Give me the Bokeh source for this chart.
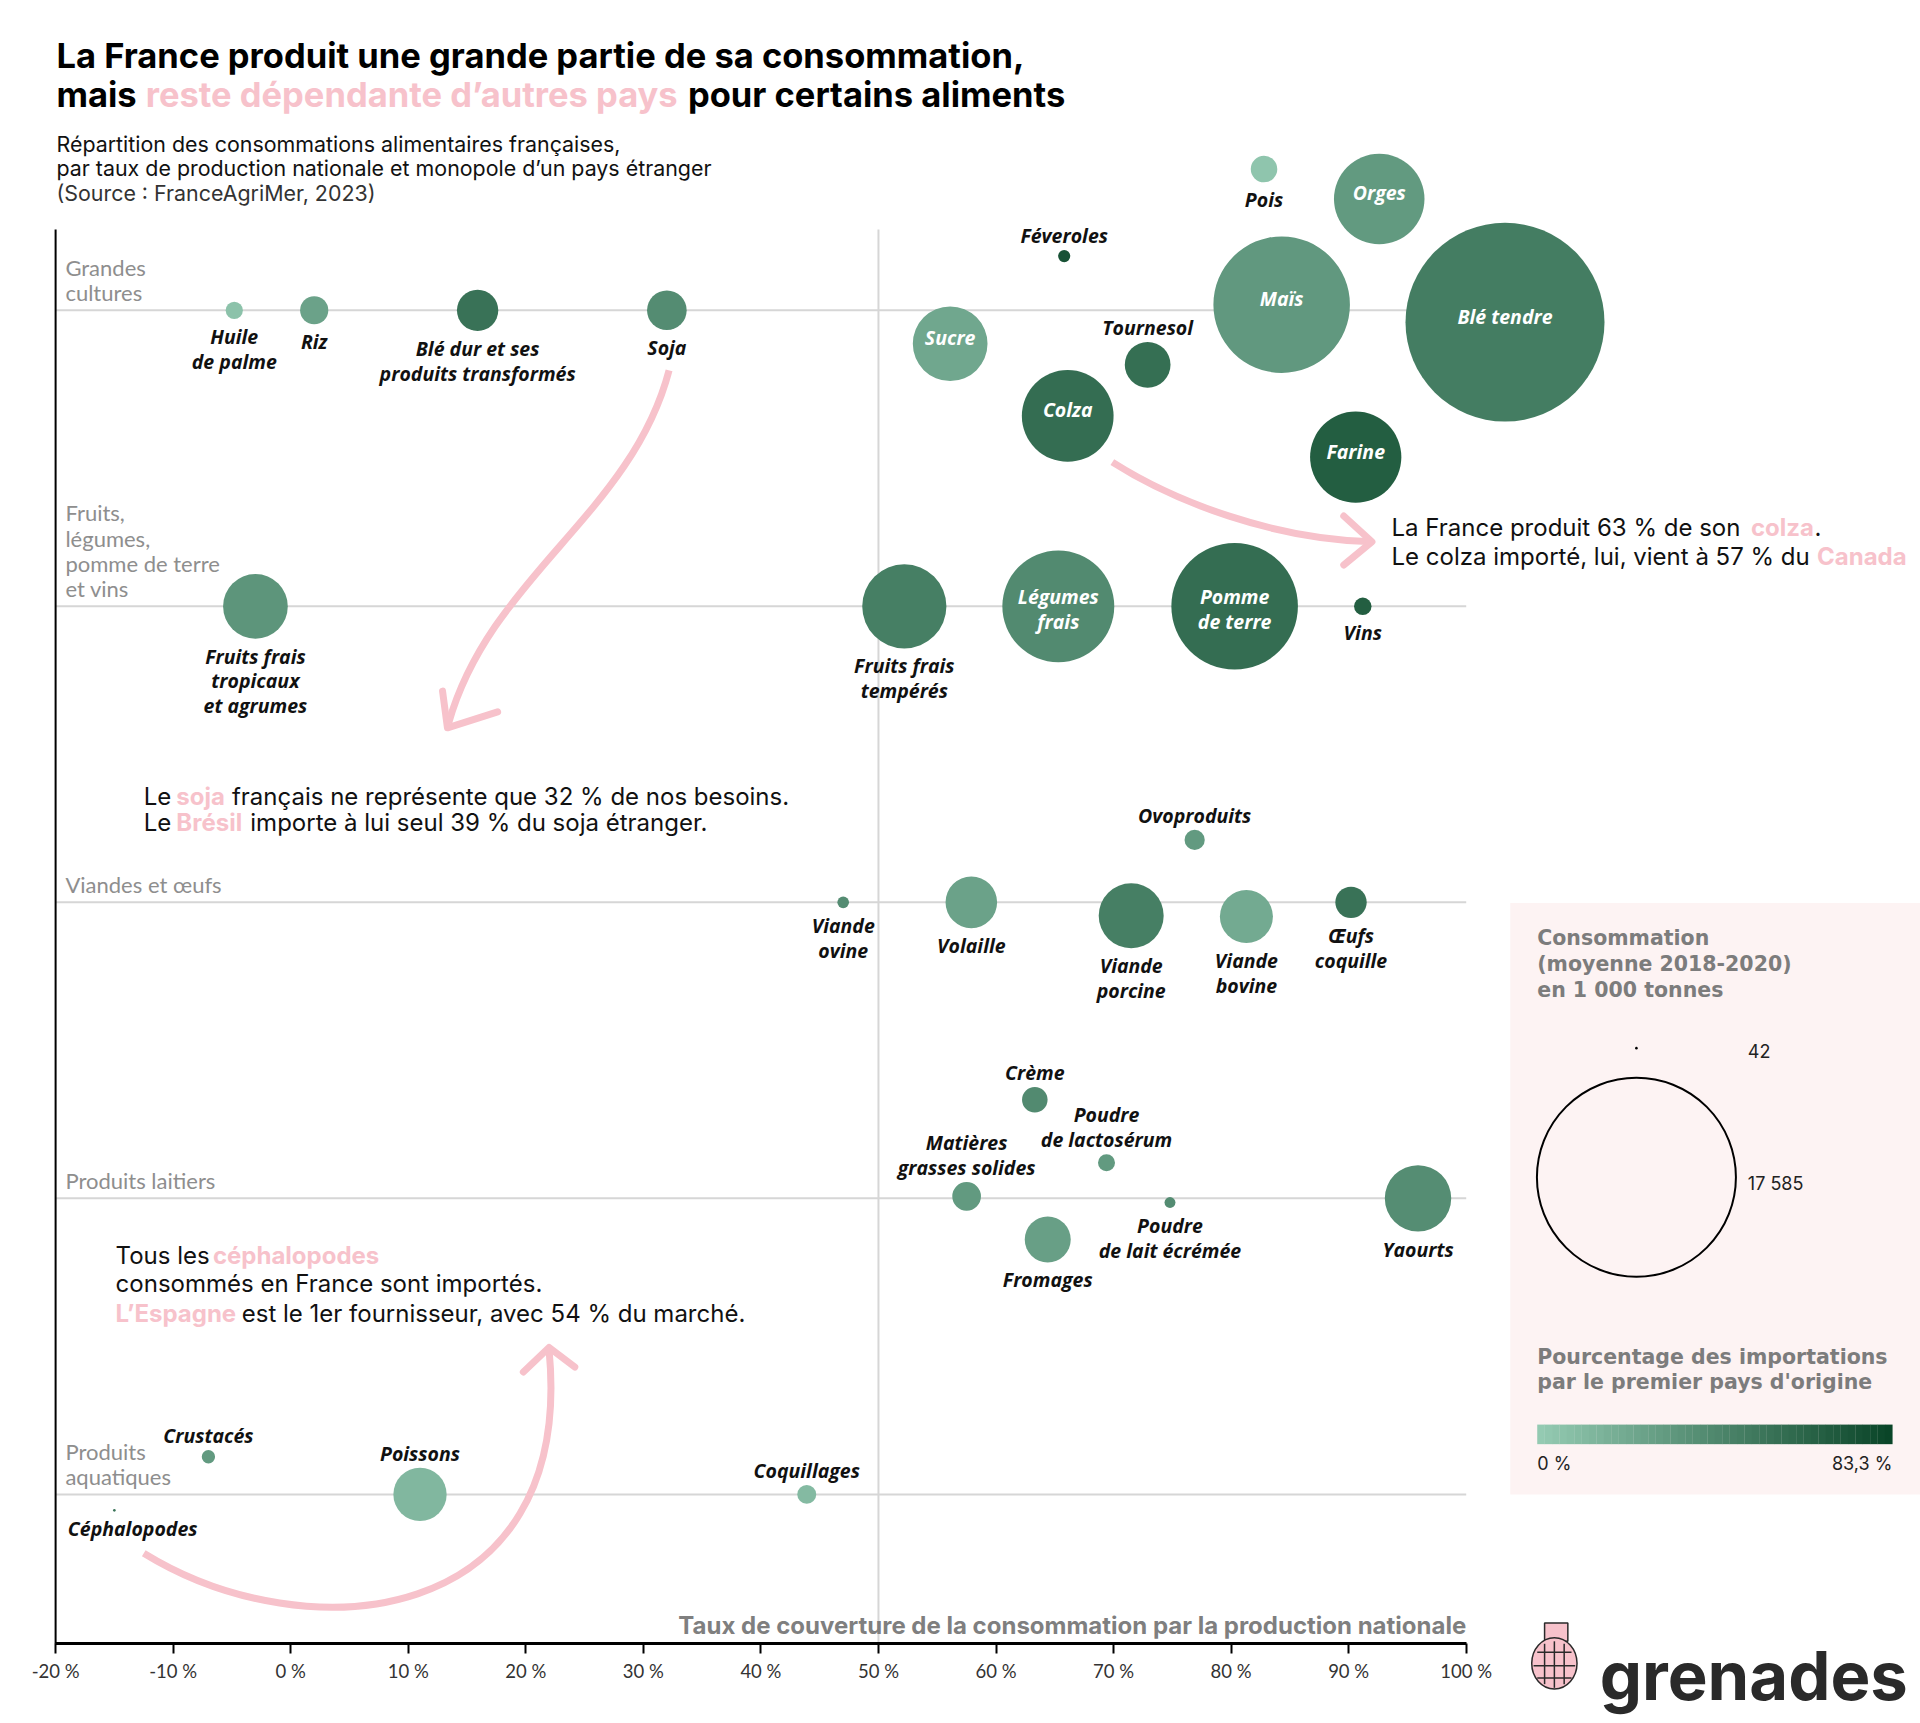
import numpy as np
from bokeh.plotting import figure
from bokeh.models import Range1d, ColumnDataSource, LinearColorMapper, LinearAxis, FixedTicker
from bokeh.transform import transform
from bokeh.core.properties import value
from bokeh.embed import file_html
from bokeh.resources import INLINE

# ------------------------------------------------------------------ data
categories = ["Produits\naquatiques", "Produits laitiers", "Viandes et œufs",
              "Fruits,\nlégumes,\npomme de terre\net vins", "Grandes\ncultures"]
category_row = [0, 1, 2, 3, 4]

products = ["Huile de palme", "Riz", "Blé dur et ses produits transformés", "Soja", "Sucre",
            "Féveroles", "Colza", "Tournesol", "Pois", "Orges", "Maïs", "Blé tendre", "Farine",
            "Fruits frais tropicaux et agrumes", "Fruits frais tempérés", "Légumes frais",
            "Pomme de terre", "Vins",
            "Viande ovine", "Volaille", "Ovoproduits", "Viande porcine", "Viande bovine", "Œufs coquille",
            "Crème", "Poudre de lactosérum", "Matières grasses solides", "Poudre de lait écrémée",
            "Fromages", "Yaourts",
            "Crustacés", "Poissons", "Coquillages", "Céphalopodes"]
product_labels = ["Huile\nde palme", "Riz", "Blé dur et ses\nproduits transformés", "Soja", "Sucre",
                  "Féveroles", "Colza", "Tournesol", "Pois", "Orges", "Maïs", "Blé tendre", "Farine",
                  "Fruits frais\ntropicaux\net agrumes", "Fruits frais\ntempérés", "Légumes\nfrais",
                  "Pomme\nde terre", "Vins",
                  "Viande\novine", "Volaille", "Ovoproduits", "Viande\nporcine", "Viande\nbovine",
                  "Œufs\ncoquille",
                  "Crème", "Poudre\nde lactosérum", "Matières\ngrasses solides", "Poudre\nde lait écrémée",
                  "Fromages", "Yaourts",
                  "Crustacés", "Poissons", "Coquillages", "Céphalopodes"]
product_row = [4, 4, 4, 4, 4, 4, 4, 4, 4, 4, 4, 4, 4,
               3, 3, 3, 3, 3,
               2, 2, 2, 2, 2, 2,
               1, 1, 1, 1, 1, 1,
               0, 0, 0, 0]
coverage_pct = [-4.8, 2.0, 15.9, 32.0, 56.1, 65.8, 66.1, 72.9, 82.8, 92.6, 84.3, 103.3, 90.6,
                -3.0, 52.2, 65.3, 80.3, 91.2,
                47.0, 57.9, 76.9, 71.5, 81.3, 90.2,
                63.3, 69.4, 57.5, 74.8, 64.4, 95.9,
                -7.0, 11.0, 43.9, -15.0]
row_shift = [0.0, 0.0, 0.0, 0.0, -0.113, 0.183, -0.357, -0.184, 0.477, 0.376, 0.019, -0.040, -0.496,
             0.0, 0.0, 0.0, 0.0, 0.0,
             0.0, 0.0, 0.211, -0.045, -0.048, 0.0,
             0.333, 0.120, 0.007, -0.014, -0.139, 0.0,
             0.127, 0.0, 0.0, -0.054]
consumption_kt = [252, 525, 984, 916, 2786, 159, 4060, 1168, 477, 3962, 8554, 17585, 4022,
                  2150, 3467, 5881, 7410, 257,
                  151, 1439, 316, 2165, 1511, 623,
                  450, 248, 540, 140, 1179, 2253,
                  179, 1523, 289, 42]
first_country_share = [5, 25, 55, 39, 22, 75, 58, 57, 3, 30, 31, 48, 68,
                       33, 47, 40, 58, 68,
                       39, 25, 30, 47, 20, 55,
                       40, 30, 30, 39, 27, 38,
                       30, 12, 10, 54]
label_side = ["b", "b", "b", "b", "i", "a", "i", "a", "b", "i", "i", "i", "i",
              "b", "b", "i", "i", "b",
              "b", "b", "a", "b", "b", "b",
              "a", "a", "a", "b", "b", "b",
              "a", "a", "a", "c"]

legend_sizes = [42, 17585]
legend_size_labels = ["42", "17 585"]
legend_share = [0.0, 83.3]
legend_share_labels = ["0 %", "83,3 %"]
x_ticks = [-20, -10, 0, 10, 20, 30, 40, 50, 60, 70, 80, 90, 100]
x_tick_labels = ["-20 %", "-10 %", "0 %", "10 %", "20 %", "30 %", "40 %", "50 %", "60 %",
                 "70 %", "80 %", "90 %", "100 %"]

# ------------------------------------------------------------------ layout helpers
S = 1920 / 1568          # read-off units -> page px
M = 0                    # canvas offset on the page
W, H = 1920, 1723
KX = (1197 - 45) * S / 120      # px per percent
KY = (1220 - 253) * S / 4       # px per category row
X0 = -20 - (45 * S - M) / KX
YT = 4 + (253 * S - M) / KY


def gx(d):
    return X0 + (d * S - M) / KX


def gy(d):
    return YT - (d * S - M) / KY


PINK = "#f7c2cb"
DARK = "#111111"
GRID = "#d6d6d6"
GREY = "#8e8e8e"
LGREY = "#7c7c7c"

c0 = np.array([148, 202, 178])
c1 = np.array([10, 69, 40])
PAL = ["#%02x%02x%02x" % tuple(int(round(v)) for v in c0 + (c1 - c0) * t) for t in np.linspace(0, 1, 256)]
mapper = LinearColorMapper(palette=PAL, low=legend_share[0], high=legend_share[1])

R_MIN, R_MAX = 1.3, 99.5


def radius(v):
    v = np.asarray(v, dtype=float)
    a, b = np.sqrt(legend_sizes[0]), np.sqrt(legend_sizes[1])
    return R_MIN + (np.sqrt(v) - a) / (b - a) * (R_MAX - R_MIN)


p = figure(width=W, height=H, x_range=Range1d(X0, X0 + W / KX), y_range=Range1d(YT - H / KY, YT),
           output_backend="svg", toolbar_location=None, x_axis_type=None, y_axis_type=None,
           min_border=0, outline_line_color=None)
p.background_fill_color = "white"
p.border_fill_color = "white"


def add_text(items, font, size, style="normal", color=DARK, align="left", baseline="middle", lh=1.2):
    if not items:
        return
    d = dict(x=[i[1] for i in items], y=[i[2] for i in items], text=[i[0] for i in items])
    p.text(x="x", y="y", text="text", source=ColumnDataSource(d), text_font=value(font),
           text_font_size=value(f"{size}px"), text_font_style=style, text_color=color,
           text_align=align, text_baseline=baseline, text_line_height=lh)


AX_Y = gy(1342)
TOP_Y = gy(187)

# legend background
p.quad(left=[gx(1233)], right=[gx(1600)], top=[gy(737)], bottom=[gy(1220)],
       fill_color="#fdf3f3", line_color=None)

# grid rows / reference lines
p.segment(x0=[x_ticks[0]] * 5, x1=[x_ticks[-1]] * 5, y0=category_row, y1=category_row,
          line_color=GRID, line_width=2)
p.segment(x0=[50], x1=[50], y0=[AX_Y], y1=[TOP_Y], line_color=GRID, line_width=2)
p.segment(x0=[x_ticks[0]], x1=[x_ticks[0]], y0=[AX_Y], y1=[TOP_Y], line_color="black", line_width=2)

# category labels
add_text([(c, gx(53), r + 4 / KY) for c, r in zip(categories, category_row)],
         "Lato", 22, color=GREY, baseline="bottom", lh=0.94)

# bubbles
rad = radius(consumption_kt)
bx = np.array(coverage_pct, dtype=float)
by = np.array(product_row, dtype=float) + np.array(row_shift)
order = np.argsort(-rad)
src = ColumnDataSource(dict(x=bx[order], y=by[order], d=2 * rad[order],
                            share=np.array(first_country_share, dtype=float)[order]))
p.scatter("x", "y", size="d", source=src, fill_color=transform("share", mapper), line_color=None)

# bubble labels
LAB_FS = 19.5
LAB_LH = 0.92
dark_lab = dict(x=[], y=[], text=[], align=[], baseline=[])
white_lab = dict(x=[], y=[], text=[])
for lab, side, x, y, r in zip(product_labels, label_side, bx, by, rad):
    if side == "i":
        up = 6 if "\n" not in lab else -3
        white_lab["x"].append(x)
        white_lab["y"].append(y + up / KY)
        white_lab["text"].append(lab)
        continue
    if side == "b":
        ax, ay, al, bl = x, y - (r + 4) / KY, "center", "top"
    elif side == "a":
        ax, ay, al, bl = x, y + (r + 1) / KY, "center", "bottom"
    else:
        ax, ay, al, bl = gx(55), gy(1248), "left", "middle"
    dark_lab["x"].append(ax)
    dark_lab["y"].append(ay)
    dark_lab["text"].append(lab)
    dark_lab["align"].append(al)
    dark_lab["baseline"].append(bl)

p.text(x="x", y="y", text="text", source=ColumnDataSource(dark_lab), text_font=value("Open Sans"),
       text_font_size=value(f"{LAB_FS}px"), text_font_style="bold italic", text_color=DARK,
       text_align="align", text_baseline="baseline", text_line_height=LAB_LH)
p.text(x="x", y="y", text="text", source=ColumnDataSource(white_lab), text_font=value("Open Sans"),
       text_font_size=value(f"{LAB_FS}px"), text_font_style="bold italic", text_color="white",
       text_align="center", text_baseline="middle", text_line_height=LAB_LH)

# x axis
axis = LinearAxis(fixed_location=AX_Y, bounds=(x_ticks[0], x_ticks[-1]),
                  ticker=FixedTicker(ticks=x_ticks),
                  major_label_overrides={t: l for t, l in zip(x_ticks, x_tick_labels)})
axis.axis_line_width = 3
axis.axis_line_color = "black"
axis.major_tick_out = 10
axis.major_tick_in = 0
axis.major_tick_line_width = 2
axis.minor_tick_out = 0
axis.minor_tick_in = 0
axis.major_label_text_font = "Lato"
axis.major_label_text_font_size = "18.5px"
axis.major_label_text_color = "#333333"
axis.major_label_standoff = 6
p.add_layout(axis, "below")

add_text([("Taux de couverture de la consommation par la production nationale", gx(1197), gy(1327))],
         "Inter", 24, "bold", color="#7f7f7f", align="right")

# title & subtitle
add_text([("La France produit une grande partie de sa consommation,", gx(45.7), gy(45)),
          ("mais", gx(45.7), gy(76.5)), ("pour certains aliments", gx(561.4), gy(76.5))],
         "Inter", 34.5, "bold", color="black")
add_text([("reste dépendante d’autres pays", gx(118.6), gy(76.5))], "Inter", 34.5, "bold", color=PINK)
add_text([("Répartition des consommations alimentaires françaises,", gx(45.7), gy(117)),
          ("par taux de production nationale et monopole d’un pays étranger", gx(45.7), gy(137))],
         "Inter", 21.4, color=DARK)
add_text([("(Source : FranceAgriMer, 2023)", gx(45.7), gy(157))], "Inter", 21.4, color="#333333")

# annotations
AN_X = 1136
add_text([("La France produit 63 % de son", gx(AN_X), gy(430)), (".", gx(AN_X + 345.5), gy(430)),
          ("Le colza importé, lui, vient à 57 % du", gx(AN_X), gy(454)),
          ("Le", gx(117), gy(650)), ("français ne représente que 32 % de nos besoins.", gx(189), gy(650)),
          ("Le", gx(117), gy(671)), ("importe à lui seul 39 % du soja étranger.", gx(204), gy(671)),
          ("Tous les", gx(94), gy(1025)), ("consommés en France sont importés.", gx(94), gy(1048)),
          ("est le 1er fournisseur, avec 54 % du marché.", gx(197), gy(1072))],
         "Inter", 24, color=DARK)
add_text([("colza", gx(AN_X + 293.5), gy(430)), ("Canada", gx(AN_X + 347.5), gy(454)),
          ("soja", gx(143.6), gy(650)), ("Brésil", gx(143.6), gy(671)),
          ("céphalopodes", gx(173.5), gy(1025)), ("L’Espagne", gx(94), gy(1072))],
         "Inter", 24, "bold", color=PINK)

# arrows
arr = dict(x0=[546, 908, 117], y0=[302, 377, 1268], x1=[366, 1120, 448], y1=[590, 442, 1102],
           cx0=[515, 960, 250], cy0=[420, 410, 1350], cx1=[400, 1040, 470], cy1=[470, 440, 1330])
p.bezier(x0=[gx(v) for v in arr["x0"]], y0=[gy(v) for v in arr["y0"]],
         x1=[gx(v) for v in arr["x1"]], y1=[gy(v) for v in arr["y1"]],
         cx0=[gx(v) for v in arr["cx0"]], cy0=[gy(v) for v in arr["cy0"]],
         cx1=[gx(v) for v in arr["cx1"]], cy1=[gy(v) for v in arr["cy1"]],
         line_color=PINK, line_width=7)
heads_x = [[361, 365, 406], [1097, 1120, 1097], [427, 448, 469]]
heads_y = [[564, 594, 581], [421, 442, 461], [1120, 1100, 1116]]
p.multi_line(xs=[[gx(v) for v in h] for h in heads_x], ys=[[gy(v) for v in h] for h in heads_y],
             line_color=PINK, line_width=7, line_join="round", line_cap="round")

# legend: sizes
add_text([("Consommation", gx(1255), gy(766)), ("(moyenne 2018-2020)", gx(1255), gy(787)),
          ("en 1 000 tonnes", gx(1255), gy(808)),
          ("Pourcentage des importations", gx(1255), gy(1108)),
          ("par le premier pays d'origine", gx(1255), gy(1128))],
         "DejaVu Sans", 20.5, "bold", color=LGREY)
lr = radius(legend_sizes)
p.scatter(x=[gx(1336)], y=[gy(855.6)], size=[2 * lr[0]], fill_color="black", line_color=None)
p.scatter(x=[gx(1336)], y=[gy(961)], size=[2 * lr[1]], fill_color=None, line_color="black", line_width=2)
add_text([(legend_size_labels[0], gx(1427), gy(858)), (legend_size_labels[1], gx(1427), gy(966))],
         "Inter", 18, color="#222222")

# legend: colour bar
n = 48
bar_l, bar_r = 1255, 1545
edges = np.linspace(bar_l, bar_r, n + 1)
vals = np.linspace(legend_share[0], legend_share[1], n)
p.quad(left=[gx(e) for e in edges[:-1]], right=[gx(e) + 0.02 for e in edges[1:]],
       top=[gy(1163)] * n, bottom=[gy(1179)] * n,
       fill_color=[PAL[int(round(v / legend_share[1] * 255))] for v in vals], line_color=None)
add_text([(legend_share_labels[0], gx(1255), gy(1195))], "Inter", 18, color="#222222")
add_text([(legend_share_labels[1], gx(1545), gy(1195))], "Inter", 18, color="#222222", align="right")

# logo
p.quad(left=[gx(1261)], right=[gx(1280)], top=[gy(1325)], bottom=[gy(1340)],
       fill_color=PINK, line_color="#2a2a2a", line_width=1.5)
p.ellipse(x=[gx(1269)], y=[gy(1358)], width=[37 * S / KX], height=[42 * S / KY],
          fill_color=PINK, line_color="#2a2a2a", line_width=1.5)
p.segment(x0=[gx(1255), gx(1252), gx(1255)], x1=[gx(1283), gx(1286), gx(1283)],
          y0=[gy(1349), gy(1360), gy(1370)], y1=[gy(1349), gy(1360), gy(1370)],
          line_color="#2a2a2a", line_width=1.5)
p.segment(x0=[gx(1261), gx(1269), gx(1277)], x1=[gx(1261), gx(1269), gx(1277)],
          y0=[gy(1342), gy(1340), gy(1342)], y1=[gy(1375), gy(1378), gy(1375)],
          line_color="#2a2a2a", line_width=1.5)
add_text([("grenades", gx(1306), gy(1368))], "Inter", 67, "bold", color="#2a2a2a", baseline="alphabetic")

open("out.html", "w").write(file_html(p, INLINE))
